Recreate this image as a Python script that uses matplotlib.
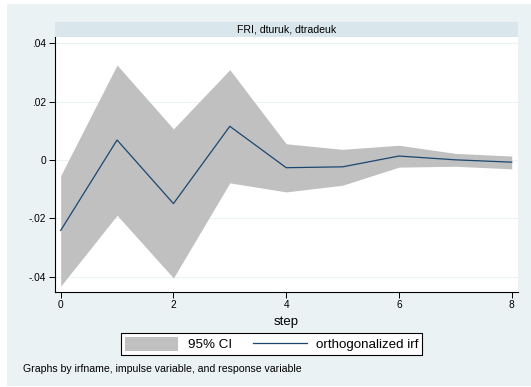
import matplotlib.pyplot as plt
from matplotlib.patches import Rectangle, Patch
from matplotlib.lines import Line2D

plt.rcParams['font.family'] = ['Liberation Sans', 'DejaVu Sans']

step = [0, 1, 2, 3, 4, 5, 6, 7, 8]
oirf = [-0.0241, 0.0069, -0.0149, 0.0116, -0.0026, -0.0023, 0.0014, 0.0001, -0.0007]
upper = [-0.0053, 0.0326, 0.0107, 0.0310, 0.0056, 0.0037, 0.0051, 0.0023, 0.0014]
lower = [-0.0432, -0.0189, -0.0404, -0.0078, -0.0109, -0.0086, -0.0024, -0.0021, -0.0030]
yticks = [-0.04, -0.02, 0, 0.02, 0.04]
yticklabels = ['-.04', '-.02', '0', '.02', '.04']
xticks = [0, 2, 4, 6, 8]

W, H = 531, 387
bg = '#EAF2F3'
fig = plt.figure(figsize=(W / 100, H / 100), dpi=100, facecolor='white')
# graph region (light bluish grey, thin white margin)
fig.patches.append(Rectangle((7 / W, 1 - 385.5 / H), (W - 7) / W, (385.5 - 4) / H,
                             transform=fig.transFigure, facecolor=bg, edgecolor='none', zorder=-10))

left, right, top, bottom = 54.7, 517.7, 37, 291.7
ax = fig.add_axes([left / W, 1 - bottom / H, (right - left) / W, (bottom - top) / H])
ax.set_facecolor('white')

ax.fill_between(step, lower, upper, color='#C0C0C0', linewidth=0, zorder=2)
ax.plot(step, oirf, color='#1A476F', linewidth=0.9, zorder=3)

ax.set_xlim(-0.106, 8.106)
ax.set_ylim(-0.0451, 0.0422)
ax.set_yticks(yticks)
ax.set_yticklabels(yticklabels)
ax.set_xticks(xticks)
ax.grid(axis='y', color='#EAF2F3', linewidth=0.8, zorder=1)
ax.set_axisbelow(True)
for s in ['top', 'right']:
    ax.spines[s].set_visible(False)
for s in ['left', 'bottom']:
    ax.spines[s].set_color('black')
    ax.spines[s].set_linewidth(0.8)
ax.tick_params(axis='both', labelsize=7.3, length=4, width=0.7, pad=2, colors='black')
ax.set_xlabel('step', fontsize=9.5, labelpad=4)

# title band
band = fig.add_axes([left / W, 1 - top / H, (right - left) / W, 15 / H])
band.set_facecolor('#D9E6EB')
band.set_xticks([])
band.set_yticks([])
for s in band.spines.values():
    s.set_visible(False)
band.text(0.5, 0.5, 'FRI, dturuk, dtradeuk', ha='center', va='center', fontsize=7.6,
          transform=band.transAxes)

handles = [Patch(facecolor='#C0C0C0', edgecolor='none'),
           Line2D([0], [0], color='#1A476F', linewidth=0.9)]
leg = fig.legend(handles, ['95% CI', 'orthogonalized irf'], loc='center',
                 bbox_to_anchor=(271.7 / W, 1 - 344 / H), ncol=2, fontsize=9.6,
                 frameon=True, fancybox=False, edgecolor='black', facecolor='white',
                 framealpha=1, handlelength=4.0, handleheight=1.3, columnspacing=1.6,
                 handletextpad=0.7, borderpad=0.3)
leg.get_frame().set_linewidth(0.8)

fig.text(23 / W, 1 - 369 / H, 'Graphs by irfname, impulse variable, and response variable',
         fontsize=7.6, va='center', ha='left')

fig.savefig('out.png', dpi=100, facecolor='white')
